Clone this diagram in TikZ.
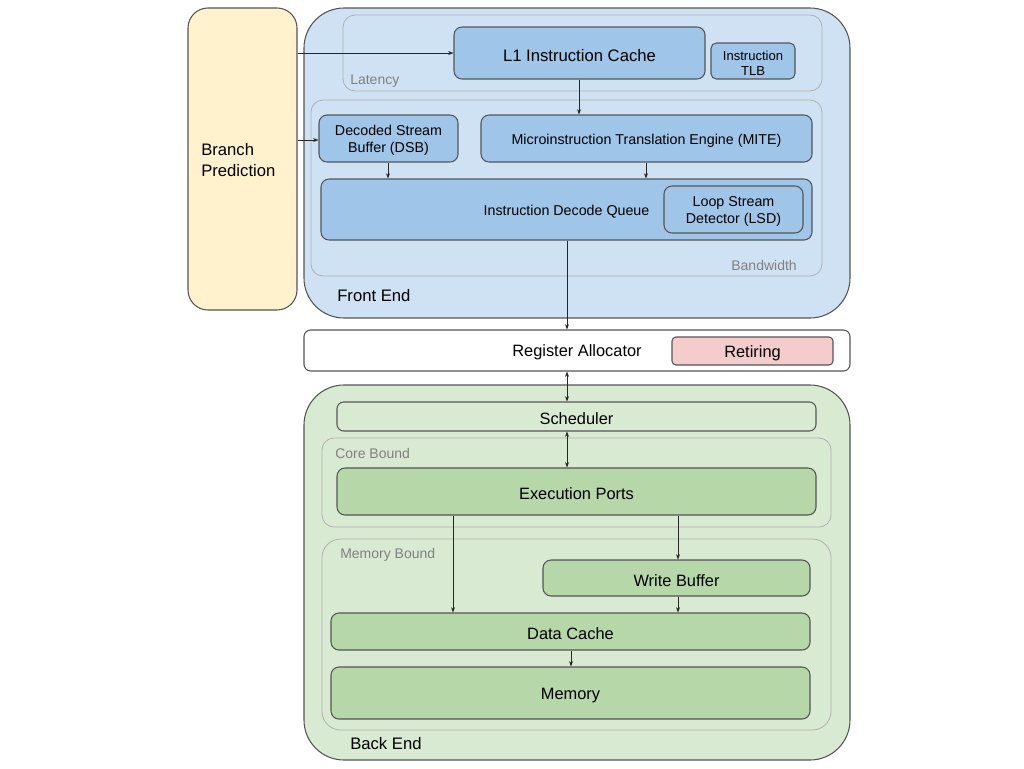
\documentclass[tikz,border=0pt]{standalone}
\usepackage{fontspec}
\setmainfont{Liberation Sans}
\usetikzlibrary{fit,arrows.meta}
\definecolor{feBg}{HTML}{CFE2F3}
\definecolor{feBox}{HTML}{9FC5E8}
\definecolor{beBg}{HTML}{D9EAD3}
\definecolor{beBox}{HTML}{B6D7A8}
\definecolor{bpBg}{HTML}{FFF2CC}
\definecolor{retBg}{HTML}{F4CCCC}
\definecolor{edge}{HTML}{555555}
\definecolor{grp}{HTML}{B0B0B0}
\definecolor{grpTxt}{HTML}{808080}
\begin{document}
\begin{tikzpicture}[x=0.75pt,y=-0.75pt,
  region/.style={draw=edge, line width=0.8pt, rounded corners=30pt, inner sep=0pt},
  grpbox/.style={draw=grp, line width=0.6pt, rounded corners=9pt, inner sep=0pt},
  unit/.style={draw=edge, line width=0.8pt, rounded corners=6pt, inner sep=0pt},
  blueunit/.style={unit, fill=feBox},
  greenunit/.style={unit, fill=beBox},
  tl/.style={align=center, inner sep=0pt, text=black, yshift=-1.6pt},
  big/.style={tl, font=\fontsize{12.5}{15}\selectfont},
  mid/.style={tl, font=\fontsize{12.3}{14.5}\selectfont},
  sml/.style={tl, font=\fontsize{10.7}{13}\selectfont},
  tny/.style={tl, font=\fontsize{9.8}{11.5}\selectfont},
  grplbl/.style={text=grpTxt, font=\fontsize{10.5}{12.5}\selectfont, inner sep=0pt},
  regionlbl/.style={font=\fontsize{12.5}{15}\selectfont, inner sep=0pt, anchor=west},
  conn/.style={draw=black!85, line width=0.6pt, -{Stealth[length=4pt,width=3pt]}},
  bconn/.style={draw=black!85, line width=0.6pt, {Stealth[length=4pt,width=3pt]}-{Stealth[length=4pt,width=3pt]}}
]
\useasboundingbox (0,0) rectangle (1024,768);

% Branch prediction
\node[region, rounded corners=15pt, fill=bpBg, fit={(188,8) (297,310)}] (bp) {};
\node[anchor=west, align=left, font=\fontsize{12.5}{15.5}\selectfont, inner sep=0pt] (bptxt) at (201,160) {Branch\\Prediction};

% Front end
\node[region, fill=feBg, fit={(304,8) (850,318)}] (fe) {};
\node[regionlbl] (fetxt) at (337,296) {Front End};
\node[grpbox, fit={(343,15) (822,91)}] (lat) {};
\node[grplbl, anchor=west] (lattxt) at (350,81) {Latency};
\node[grpbox, fit={(311,100) (822,276)}] (bw) {};
\node[grplbl, anchor=east] (bwtxt) at (797,265) {Bandwidth};

\node[blueunit, fit={(454,27) (705,79)}, label={[big]center:L1 Instruction Cache}] (l1) {};
\node[blueunit, rounded corners=4pt, fit={(711,43) (795,79)}, label={[tny]center:Instruction\\TLB}] (tlb) {};
\node[blueunit, fit={(319,115) (458,162)}, label={[sml]center:Decoded Stream\\Buffer (DSB)}] (dsb) {};
\node[blueunit, fit={(481,115) (812,162)}, label={[sml]center:Microinstruction Translation Engine (MITE)}] (mite) {};
\node[blueunit, fit={(321,179) (812,240)}, label={[sml]center:Instruction Decode Queue}] (idq) {};
\node[blueunit, fit={(664,186) (803,233)}, label={[sml]center:Loop Stream\\Detector (LSD)}] (lsd) {};

% Register allocator
\node[unit, fill=white, rounded corners=5pt, fit={(304,330) (850,371)}, label={[mid]center:Register Allocator}] (ra) {};
\node[unit, fill=retBg, rounded corners=3pt, fit={(672,337) (833,365)}, label={[mid]center:Retiring}] (ret) {};

% Back end
\node[region, fill=beBg, fit={(304,385) (850,760)}] (be) {};
\node[regionlbl] (betxt) at (350,744) {Back End};
\node[unit, fill=beBg, rounded corners=5pt, fit={(337,402) (816,431)}, label={[mid]center:Scheduler}] (sch) {};
\node[grpbox, fit={(322,438) (831,527)}] (core) {};
\node[grplbl, anchor=west] (coretxt) at (335,453) {Core Bound};
\node[greenunit, fit={(337,468) (816,515)}, label={[mid]center:Execution Ports}] (ep) {};
\node[grpbox, rounded corners=14pt, fit={(322,539) (831,730)}] (mem) {};
\node[grplbl, anchor=west] (memtxt) at (340,555) {Memory Bound};
\node[greenunit, fit={(543,560) (810,596)}, label={[mid]center:Write Buffer}] (wb) {};
\node[greenunit, fit={(331,613) (810,650)}, label={[mid]center:Data Cache}] (dc) {};
\node[greenunit, fit={(331,667) (810,719)}, label={[mid]center:Memory}] (memory) {};

% connectors
\draw[conn] (bp.east |- l1.west) -- (l1.west);
\draw[conn] (bp.east |- 0,140) -- (dsb.west |- 0,140);
\draw[conn] (l1.south -| 579,0) -- (mite.north -| 579,0);
\draw[conn] (dsb.south -| 388,0) -- (idq.north -| 388,0);
\draw[conn] (mite.south -| 646,0) -- (idq.north -| 646,0);
\draw[conn] (idq.south -| 567,0) -- (ra.north -| 567,0);
\draw[bconn] (ra.south -| 567,0) -- (sch.north -| 567,0);
\draw[bconn] (sch.south -| 567,0) -- (ep.north -| 567,0);
\draw[conn] (ep.south -| 453,0) -- (dc.north -| 453,0);
\draw[conn] (ep.south -| 678,0) -- (wb.north -| 678,0);
\draw[conn] (wb.south -| 678,0) -- (dc.north -| 678,0);
\draw[conn] (dc.south -| 571,0) -- (memory.north -| 571,0);
\end{tikzpicture}
\end{document}
